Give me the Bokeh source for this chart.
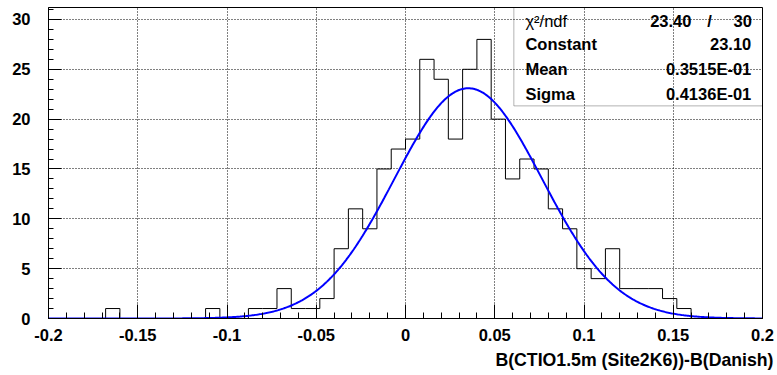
import numpy as np
from bokeh.plotting import figure
from bokeh.models import FixedTicker, BoxAnnotation, Label, Range1d, Title
from bokeh.embed import file_html
from bokeh.resources import INLINE

# ---------------- data ----------------
bin_low = -0.2
bin_width = 0.008
counts = [0, 0, 0, 0, 1, 0, 0, 0, 0, 0,
          0, 1, 0, 0, 1, 1, 3, 1, 1, 2,
          7, 11, 9, 15, 17, 18, 26, 24, 18, 25,
          28, 20, 14, 16, 15, 11, 9, 5, 4, 7,
          3, 3, 3, 2, 1, 0, 0, 0, 0, 0]

fit_constant = 23.10
fit_mean = 0.03515
fit_sigma = 0.04136

chi2_text = "23.40"
ndf_text = "30"
stats_names = ["Constant", "Mean", "Sigma"]
stats_values = ["23.10", "0.3515E-01", "0.4136E-01"]

x_ticks = [-0.2, -0.15, -0.1, -0.05, 0.0, 0.05, 0.1, 0.15, 0.2]
x_tick_labels = ["-0.2", "-0.15", "-0.1", "-0.05", "0", "0.05", "0.1", "0.15", "0.2"]
y_ticks = [0, 5, 10, 15, 20, 25, 30]
x_title = "B(CTIO1.5m (Site2K6))-B(Danish)"

# ---------------- derived ----------------
n = len(counts)
edges = np.round(bin_low + bin_width * np.arange(n + 1), 6)
step_y = list(counts) + [counts[-1]]

xs = np.linspace(-0.2, 0.2, 601)
ys = fit_constant * np.exp(-0.5 * ((xs - fit_mean) / fit_sigma) ** 2)

FONT = "Liberation Sans"

p = figure(width=776, height=374, output_backend="svg", toolbar_location=None,
           x_range=Range1d(-0.2, 0.2), y_range=Range1d(0, 31.2))
p.min_border = 0
p.min_border_left = 48
p.min_border_right = 14
p.min_border_top = 7
p.min_border_bottom = 55
p.background_fill_color = "white"
p.border_fill_color = "white"
p.outline_line_color = "black"
p.outline_line_width = 1
p.outline_line_alpha = 1

xt = FixedTicker(ticks=x_ticks, minor_ticks=list(np.round(np.arange(-0.2, 0.2001, 0.01), 4)))
yt = FixedTicker(ticks=y_ticks, minor_ticks=list(range(0, 32)))
p.xaxis.ticker = xt
p.yaxis.ticker = yt
p.xgrid.ticker = xt
p.ygrid.ticker = yt
p.xaxis.major_label_overrides = {t: l for t, l in zip(x_ticks, x_tick_labels)}

for ax in (p.xaxis[0], p.yaxis[0]):
    ax.axis_line_color = "black"
    ax.axis_line_width = 1
    ax.major_tick_line_color = "black"
    ax.minor_tick_line_color = "black"
    ax.major_tick_out = 0
    ax.minor_tick_out = 0
    ax.major_label_text_font = FONT
    ax.major_label_text_font_style = "bold"
    ax.major_label_text_font_size = "16.5px"
    ax.major_label_text_color = "black"
p.xaxis.major_tick_in = 14
p.xaxis.minor_tick_in = 6
p.yaxis.major_tick_in = 13
p.yaxis.minor_tick_in = 5
p.xaxis.major_label_standoff = 10
p.yaxis.major_label_standoff = 18

for g in (p.xgrid[0], p.ygrid[0]):
    g.grid_line_color = "black"
    g.grid_line_dash = "1 2"
    g.grid_line_width = 1
    g.grid_line_alpha = 1.0

# histogram outline
p.step(x=edges, y=step_y, mode="after", line_color="black", line_width=1)
# gaussian fit
p.line(xs, ys, line_color="#0000ff", line_width=2)

# stats box
p.add_layout(BoxAnnotation(left=0.0607, right=0.2, bottom=21.33, top=31.2,
                           fill_color=None, line_color="black", line_width=1))
row_y = [29.88, 27.5, 25.0, 22.5]
name_x = 0.0672
val_x = 0.1937

def lab(x, y, text, align, bold=True):
    return Label(x=x, y=y, text=text, text_font=FONT, text_font_size="16.5px",
                 text_font_style="bold" if bold else "normal", text_baseline="middle",
                 text_align=align, text_color="black")

p.add_layout(lab(name_x, row_y[0], "χ²/ndf", "left", bold=False))
p.add_layout(lab(0.1602, row_y[0], chi2_text, "right"))
p.add_layout(lab(0.1703, row_y[0], "/", "center"))
p.add_layout(lab(0.1941, row_y[0], ndf_text, "right"))
for i, (nm, vl) in enumerate(zip(stats_names, stats_values)):
    p.add_layout(lab(name_x, row_y[i + 1], nm, "left"))
    p.add_layout(lab(val_x, row_y[i + 1], vl, "right"))

# x axis title (right aligned, ROOT style)
p.add_layout(Title(text=x_title, align="right", offset=-11, standoff=9,
                   text_font=FONT, text_font_size="17.7px", text_font_style="bold",
                   text_color="black"), "below")

open("out.html", "w").write(file_html(p, INLINE))
